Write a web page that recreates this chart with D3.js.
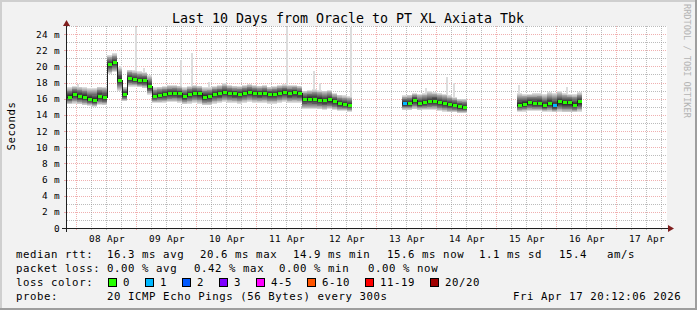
<!DOCTYPE html>
<html><head><meta charset="utf-8">
<script src="https://cdn.jsdelivr.net/npm/d3@7"></script>
<style>
html,body{margin:0;padding:0;background:#f2f2f2;}
svg{display:block;}
text{font-family:"DejaVu Sans Mono",monospace;fill:#000;}
</style></head><body>
<svg id="c" width="697" height="310"></svg>
<script>
// ---------- data ----------
const title = "Last 10 Days from Oracle to PT XL Axiata Tbk";
const yAxisTitle = "Seconds";
const watermark = "RRDTOOL / TOBI OETIKER";
const endTime = Date.UTC(2026, 3, 17, 20, 12, 6);
const spanHours = 240;
const stepHours = 2;

const median = [
  16.2,16.5,16.3,16.2,15.9,15.75,16.3,16.1,
  20.2,20.5,18.3,16.5,18.5,18.4,18.2,18.2,17.5,
  16.3,16.4,16.5,16.6,16.7,16.6,16.3,16.5,16.7,16.6,
  16.2,16.25,16.5,16.6,16.8,16.7,16.6,16.5,16.7,16.8,
  16.7,16.6,16.7,16.5,16.5,16.7,16.75,16.6,16.75,16.6,
  15.9,15.95,15.9,15.8,15.75,15.85,15.6,15.4,15.3,15.2,
  null,null,null,null,null,null,null,null,null,null,
  15.4,15.4,15.8,15.4,15.5,15.6,15.7,15.5,15.4,15.3,15.2,15.0,14.9,
  null,null,null,null,null,null,null,null,null,null,
  15.2,15.3,15.5,15.35,15.4,15.1,15.4,15.1,15.6,15.5,15.5,15.2,15.6,
  null,null,null,null,null,null,null,null,null,null,null,null,null,null,null,null,null
];
const smokeLow = [
  15.3,15.4,15.3,15.2,15.1,15.0,15.2,15.2,
  19.1,19.3,17.0,15.7,17.5,17.5,17.4,17.3,16.5,
  15.5,15.5,15.5,15.6,15.6,15.5,15.3,15.4,15.5,15.4,
  15.2,15.2,15.4,15.5,15.6,15.5,15.5,15.4,15.5,15.6,
  15.5,15.5,15.5,15.4,15.4,15.5,15.6,15.5,15.5,15.5,
  14.7,14.7,14.7,14.7,14.6,14.7,14.6,14.5,14.5,14.4,
  null,null,null,null,null,null,null,null,null,null,
  14.6,14.6,14.7,14.6,14.6,14.6,14.6,14.5,14.4,14.3,14.3,14.2,14.2,
  null,null,null,null,null,null,null,null,null,null,
  14.4,14.4,14.5,14.5,14.5,14.4,14.4,14.3,14.4,14.3,14.3,14.3,14.4,
  null,null,null,null,null,null,null,null,null,null,null,null,null,null,null,null,null
];
const smokeHigh = [
  17.4,17.6,17.5,17.4,17.3,17.3,17.5,17.5,
  21.4,21.6,19.9,17.5,19.6,19.5,19.4,19.3,18.9,
  17.4,17.5,17.6,17.7,17.7,17.6,17.4,17.6,17.7,17.6,
  17.4,17.4,17.6,17.7,17.9,17.7,17.6,17.6,17.7,17.8,
  17.7,17.6,17.7,17.5,17.6,17.7,17.8,17.7,17.7,17.6,
  17.0,17.1,17.2,17.1,17.0,17.1,16.7,16.5,16.4,16.3,
  null,null,null,null,null,null,null,null,null,null,
  16.4,16.5,16.7,16.6,16.7,16.9,16.8,16.7,16.6,16.4,16.2,16.0,16.0,
  null,null,null,null,null,null,null,null,null,null,
  16.7,16.6,16.6,16.7,16.7,16.6,16.8,16.7,16.9,16.7,16.6,16.6,16.8,
  null,null,null,null,null,null,null,null,null,null,null,null,null,null,null,null,null
];
const lossCount = [
  0,0,0,0,0,0,0,0, 0,0,0,0,0,0,0,0,0, 0,0,0,0,0,0,0,0,0,0,
  0,0,0,0,0,0,0,0,0,0, 0,0,0,0,0,0,0,0,0,0, 0,0,0,0,0,0,0,0,0,0,
  0,0,0,0,0,0,0,0,0,0,
  1,0,0,0,0,0,0,0,0,0,0,0,0,
  0,0,0,0,0,0,0,0,0,0,
  0,0,0,0,0,0,0,1,0,0,0,0,0,
  0,0,0,0,0,0,0,0,0,0,0,0,0,0,0,0,0
];
const spikeHours  = [4.4, 21.6, 27.6, 30.8, 45.6, 50, 56.8, 88, 98.8, 101.2, 113.6, 143.6, 152, 154.8, 180.8, 200];
const spikeValues = [17.8, 20.0, 24.9, 19.8, 20.8, 21.6, 18.1, 24.9, 19.4, 18.0, 24.9, 17.3, 18.7, 17.9, 17.7, 17.4];

const yTicks = [0,2,4,6,8,10,12,14,16,18,20,22,24];
const dayLabels = ["08 Apr","09 Apr","10 Apr","11 Apr","12 Apr","13 Apr","14 Apr","15 Apr","16 Apr","17 Apr"];

const rttLabel = "median rtt:";
const rttStats = ["16.3 ms avg","20.6 ms max","14.9 ms min","15.6 ms now","1.1 ms sd","15.4","am/s"];
const lossLabel = "packet loss:";
const lossStats = ["0.00 % avg","0.42 % max","0.00 % min","0.00 % now"];
const lossColorLabel = "loss color:";
const lossLegend = ["0","1","2","3","4-5","6-10","11-19","20/20"];
const lossColors = ["#26ff00","#00b8ff","#0059ff","#7e00ff","#ff00ff","#ff5500","#ff0000","#a00000"];
const probeLabel = "probe:";
const probeText = "20 ICMP Echo Pings (56 Bytes) every 300s";
const stampText = "Fri Apr 17 20:12:06 2026";

// ---------- layout ----------
const W = 697, H = 310;
const PL = 67, PR = 667, PT = 26, PB = 228;
const svg = d3.select("#c");
const startTime = endTime - spanHours * 3600e3;
const x = d3.scaleUtc().domain([startTime, endTime]).range([PL, PR]);
const y = d3.scaleLinear().domain([0, 25]).range([PB, PT]);
const tAt = h => new Date(startTime + h * 3600e3);

// background + shade frame
svg.append("rect").attr("width", W).attr("height", H).attr("fill", "#f2f2f2");
svg.append("rect").attr("x",0).attr("y",0).attr("width",W).attr("height",2).attr("fill","#cfcfcf");
svg.append("rect").attr("x",0).attr("y",0).attr("width",2).attr("height",H).attr("fill","#cfcfcf");
svg.append("rect").attr("x",0).attr("y",H-2).attr("width",W).attr("height",2).attr("fill","#9e9e9e");
svg.append("rect").attr("x",W-2).attr("y",0).attr("width",2).attr("height",H).attr("fill","#9e9e9e");

// canvas
svg.append("rect").attr("x", PL).attr("y", PT).attr("width", PR-PL).attr("height", PB-PT).attr("fill", "#fff");

const gridC = "rgba(143,143,143,0.6)", mgridC = "rgba(222,79,79,0.45)";
const grid = svg.append("g").attr("stroke-dasharray","1,1").attr("stroke-width",1).attr("shape-rendering","crispEdges");
// horizontal
d3.range(1, 26).forEach(v => {
  const yy = Math.round(y(v)) + 0.5;
  grid.append("line").attr("x1", PL).attr("x2", PR).attr("y1", yy).attr("y2", yy)
    .attr("stroke", v % 2 === 0 ? mgridC : gridC);
});
// vertical
d3.utcHour.every(6).range(new Date(startTime), new Date(endTime)).forEach(t => {
  const xx = Math.round(x(t)) + 0.5;
  const major = t.getUTCHours() === 0;
  grid.append("line").attr("x1", xx).attr("x2", xx).attr("y1", PT).attr("y2", PB)
    .attr("stroke", major ? mgridC : gridC);
});

// data
svg.append("clipPath").attr("id","pc").append("rect")
  .attr("x", PL).attr("y", PT).attr("width", PR-PL).attr("height", PB-PT);
const data = svg.append("g").attr("clip-path","url(#pc)").attr("shape-rendering","crispEdges");

// spikes (outer-most ping, lightest smoke)
spikeHours.forEach((h, i) => {
  const st = Math.floor(h / stepHours);
  const base = median[st] != null ? median[st] : 16;
  const xx = Math.round(x(tAt(h)));
  data.append("rect").attr("x", xx - 1).attr("width", 2)
    .attr("y", y(spikeValues[i])).attr("height", y(base) - y(spikeValues[i]))
    .attr("fill", "#dddddd");
});

// smoke bands (outer -> inner pings)
const fracs = [1, 0.92, 0.84, 0.76, 0.68, 0.6, 0.51, 0.41, 0.3, 0.18];
const grays = d3.range(1, 11).map(i => { const g = 19 * (10 - i) + 50; return `rgb(${g},${g},${g})`; });
median.forEach((m, i) => {
  if (m == null) return;
  const x0 = x(tAt(i * stepHours)), x1 = x(tAt((i + 1) * stepHours));
  fracs.forEach((f, k) => {
    const top = m + (smokeHigh[i] - m) * f;
    const bot = m - (m - smokeLow[i]) * f;
    data.append("rect").attr("x", x0).attr("width", x1 - x0)
      .attr("y", y(top)).attr("height", Math.max(1, y(bot) - y(top)))
      .attr("fill", grays[k]);
  });
});

// thin median line
const pts = [];
median.forEach((m, i) => {
  if (m == null) return;
  pts.push({ h: i * stepHours, v: m });
  if (i === median.length - 1 || median[i + 1] == null) {
    pts.push({ h: (i + 1) * stepHours, v: m });
    pts.push({ h: (i + 1) * stepHours, v: null });
  }
});
data.append("path").datum(pts)
  .attr("d", d3.line().defined(d => d.v != null).x(d => x(tAt(d.h))).y(d => y(d.v)).curve(d3.curveStepAfter))
  .attr("fill", "none").attr("stroke", "#202020").attr("stroke-width", 1);

// loss-coloured median
const lossIndex = c => c === 0 ? 0 : c === 1 ? 1 : c === 2 ? 2 : c === 3 ? 3 : c <= 5 ? 4 : c <= 10 ? 5 : c <= 19 ? 6 : 7;
median.forEach((m, i) => {
  if (m == null) return;
  const x0 = x(tAt(i * stepHours)), x1 = x(tAt((i + 1) * stepHours));
  data.append("line").attr("x1", x0 + 0.5).attr("x2", x1 - 0.5).attr("y1", y(m)).attr("y2", y(m))
    .attr("stroke", lossColors[lossIndex(lossCount[i])]).attr("stroke-width", 3);
});

// axes
const yAxis = d3.axisLeft(y).tickValues(yTicks).tickSize(0).tickPadding(7)
  .tickFormat(d => d === 0 ? "0" : d + " m");
const gy = svg.append("g").attr("transform", `translate(${PL},0)`).call(yAxis);
gy.select(".domain").remove();
gy.selectAll("text").attr("font-family", "DejaVu Sans Mono").attr("font-size", "9.4px").attr("letter-spacing", "0.35px").attr("fill", "#000");

const noonTicks = dayLabels.map((l, i) => new Date(Date.UTC(2026, 3, 8 + i, 12)));
const xAxis = d3.axisBottom(x).tickValues(noonTicks).tickSize(0).tickPadding(7)
  .tickFormat((d, i) => dayLabels[i]);
const gx = svg.append("g").attr("transform", `translate(0,${PB})`).call(xAxis);
gx.select(".domain").remove();
gx.selectAll("text").attr("font-family", "DejaVu Sans Mono").attr("font-size", "9.4px").attr("letter-spacing", "0.35px").attr("fill", "#000");

// small ticks below x axis / left of y axis
d3.utcHour.every(6).range(new Date(startTime), new Date(endTime)).forEach(t => {
  const xx = Math.round(x(t)) + 0.5;
  const major = t.getUTCHours() === 0;
  svg.append("line").attr("x1", xx).attr("x2", xx).attr("y1", PB).attr("y2", PB + 2)
    .attr("stroke", major ? mgridC : gridC).attr("shape-rendering","crispEdges");
});
yTicks.forEach(v => {
  const yy = Math.round(y(v)) + 0.5;
  svg.append("line").attr("x1", PL - 3).attr("x2", PL).attr("y1", yy).attr("y2", yy)
    .attr("stroke", mgridC).attr("shape-rendering","crispEdges");
});

// axis lines + arrows
svg.append("line").attr("x1", 62).attr("x2", 670).attr("y1", PB + 0.5).attr("y2", PB + 0.5)
  .attr("stroke", "#1f1f1f").attr("shape-rendering","crispEdges");
svg.append("line").attr("x1", PL - 0.5).attr("x2", PL - 0.5).attr("y1", PB + 4).attr("y2", 22)
  .attr("stroke", "#1f1f1f").attr("shape-rendering","crispEdges");
svg.append("path").attr("d", `M${PL-4},${PT} L${PL+3},${PT} L${PL-0.5},${PT-6} Z`).attr("fill", "#801f1f");
svg.append("path").attr("d", `M${PR+1},${PB-3} L${PR+1},${PB+4} L${PR+7},${PB+0.5} Z`).attr("fill", "#801f1f");

// title
svg.append("text").attr("x", 348).attr("y", 23).attr("text-anchor", "middle")
  .attr("font-size", "13.3px").text(title);

// y title
svg.append("text").attr("transform", "translate(15,126) rotate(-90)").attr("text-anchor", "middle")
  .attr("font-size", "10.7px").attr("letter-spacing", "0.58px").text(yAxisTitle);

// watermark
svg.append("text").attr("transform", "translate(684,4) rotate(90)")
  .attr("font-size", "8.6px").style("fill", "#b4b4b4").text(watermark);

// legend
const leg = svg.append("g").attr("font-size", "10.7px").attr("letter-spacing", "0.58px");
const row = [258, 272, 286, 300];
const LX = 16;
leg.append("text").attr("x", LX).attr("y", row[0]).text(rttLabel);
const rttX = [107, 200, 293, 387, 479, 559, 607];
rttStats.forEach((s, i) => leg.append("text").attr("x", rttX[i]).attr("y", row[0]).text(s));
leg.append("text").attr("x", LX).attr("y", row[1]).text(lossLabel);
const lossX = [107, 194, 279, 368];
lossStats.forEach((s, i) => leg.append("text").attr("x", lossX[i]).attr("y", row[1]).text(s));
leg.append("text").attr("x", LX).attr("y", row[2]).text(lossColorLabel);
let bx = 108;
lossLegend.forEach((l, i) => {
  leg.append("rect").attr("x", bx + 0.5).attr("y", 278.5).attr("width", 8).attr("height", 8)
    .attr("fill", lossColors[i]).attr("stroke", "#000").attr("stroke-width", 1);
  leg.append("text").attr("x", bx + 15).attr("y", row[2]).text(l);
  bx = bx + 15 + 7 * l.length + 15;
});
leg.append("text").attr("x", LX).attr("y", row[3]).text(probeLabel);
leg.append("text").attr("x", 107).attr("y", row[3]).text(probeText);
leg.append("text").attr("x", 513).attr("y", row[3]).text(stampText);
</script>
</body></html>
